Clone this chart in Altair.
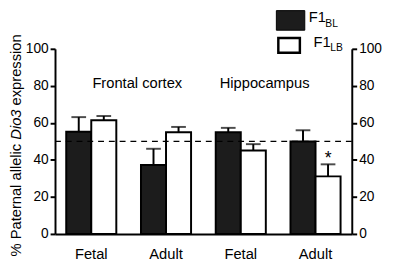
import altair as alt
import pandas as pd

FONT = "Liberation Sans"

# ---- data ----
groups = ["FC|Fetal", "FC|Adult", "HC|Fetal", "HC|Adult"]
series = ["F1BL", "F1LB"]
bl_mean = [55.2, 37.2, 54.9, 49.9]
bl_err = [7.9, 8.8, 2.4, 6.1]
lb_mean = [61.4, 54.9, 45.1, 31.1]
lb_err = [2.3, 2.9, 3.4, 6.5]
bl_sig = ["", "", "", ""]
lb_sig = ["", "", "", "*"]
y_ticks = [0, 20, 40, 60, 80, 100]
reference_level = 50
region_labels = ["Frontal cortex", "Hippocampus"]

rows = []
for g, m, e, s in zip(groups, bl_mean, bl_err, bl_sig):
    rows.append({"group": g, "series": series[0], "mean": m, "top": m + e, "sig": s})
for g, m, e, s in zip(groups, lb_mean, lb_err, lb_sig):
    rows.append({"group": g, "series": series[1], "mean": m, "top": m + e, "sig": s})
df = pd.DataFrame(rows)

W, H = 303, 189

xscale = alt.Scale(domain=groups, paddingInner=0.33, paddingOuter=0.15)
yscale = alt.Scale(domain=[0, 100], nice=False)
offscale = alt.Scale(domain=series, paddingInner=0, paddingOuter=0)

x_enc = alt.X(
    "group:N", scale=xscale, sort=groups,
    axis=alt.Axis(
        title=None, labelExpr="split(datum.label, '|')[1]", labelAngle=0,
        ticks=False, domainWidth=2, domainColor="black", labelFont=FONT,
        labelFontSize=15, labelColor="black", labelPadding=13, grid=False,
    ),
)
xoff = alt.XOffset("series:N", scale=offscale)


def yaxis(orient):
    return alt.Axis(
        orient=orient, values=y_ticks, grid=False, title=None,
        domainWidth=2, domainColor="black", tickWidth=2, tickColor="black",
        tickSize=5, labelFont=FONT, labelFontSize=14, labelColor="black",
        labelPadding=2,
    )


base = alt.Chart(df)

bars = base.mark_bar(stroke="black", strokeWidth=2).encode(
    x=x_enc,
    xOffset=xoff,
    y=alt.Y("mean:Q", scale=yscale, axis=yaxis("left")),
    fill=alt.Fill("series:N", scale=alt.Scale(domain=series, range=["#1c1c1c", "white"]), legend=None),
)

dash = alt.Chart(pd.DataFrame({"v": [reference_level]})).mark_rule(
    color="black", strokeWidth=1.5, strokeDash=[6, 5]
).encode(
    y=alt.Y("v:Q", scale=yscale, axis=None),
    x=alt.value(0), x2=alt.value(W),
)

err = base.mark_rule(color="black", strokeWidth=2).encode(
    x=x_enc, xOffset=xoff,
    y=alt.Y("mean:Q", scale=yscale, axis=None), y2="top:Q",
)

caps = base.mark_tick(color="black", thickness=2, size=15).encode(
    x=x_enc, xOffset=xoff,
    y=alt.Y("top:Q", scale=yscale, axis=yaxis("right")),
)

stars = base.mark_text(font=FONT, fontSize=18, baseline="alphabetic", color="black").encode(
    x=x_enc, xOffset=xoff,
    y=alt.Y("top:Q", scale=yscale, axis=None),
    text="sig:N",
)


def label(text, x, y, size=14.5, **kw):
    return alt.Chart(pd.DataFrame({"t": [text]})).mark_text(
        font=FONT, fontSize=size, color="black", **kw
    ).encode(x=alt.value(x), y=alt.value(y), text="t:N")


regions = [
    label(region_labels[0], 84, 35, size=15, align="center", baseline="middle"),
    label(region_labels[1], 214, 35, size=15, align="center", baseline="middle"),
]

# y-axis title with italic gene name
t1, t2, t3 = "% Paternal allelic", "Dio3", "expression"
fs = 15
space = 0.278 * fs
w1 = 7.669 * fs + space
w2 = 2.056 * fs + space
tx, ty = -40, 212
ytitle = [
    label(t1, tx, ty, size=fs, angle=270, align="left", baseline="middle"),
    label(t2, tx, ty - w1, size=fs, angle=270, align="left", baseline="middle", fontStyle="italic"),
    label(t3, tx, ty - w1 - w2, size=fs, angle=270, align="left", baseline="middle"),
]

# legend
leg_black = alt.Chart(pd.DataFrame({"s": [series[0]]})).mark_rect(
    fill="#1c1c1c", stroke="black", strokeWidth=1
).encode(x=alt.value(226), x2=alt.value(255), y=alt.value(-39), y2=alt.value(-19))
leg_white = alt.Chart(pd.DataFrame({"s": [series[1]]})).mark_rect(
    fill="white", stroke="black", strokeWidth=2.5
).encode(x=alt.value(228), x2=alt.value(250), y=alt.value(-11), y2=alt.value(4))
leg_text = [
    label("F1", 259, -27, size=15, align="left", baseline="alphabetic"),
    label("BL", 276, -22, size=10.5, align="left", baseline="alphabetic"),
    label("F1", 264, -2, size=15, align="left", baseline="alphabetic"),
    label("LB", 281, 2, size=10.5, align="left", baseline="alphabetic"),
]

chart = alt.layer(
    bars, dash, err, caps, stars, *regions, *ytitle, leg_black, leg_white, *leg_text
).resolve_axis(y="independent").properties(
    width=W, height=H,
    autosize=alt.AutoSizeParams(type="none"),
    padding={"left": 48, "top": 39, "right": 38, "bottom": 27},
    background="white",
).configure_view(stroke=None)

chart.save("out.html", embed_options={"renderer": "svg", "actions": False})
